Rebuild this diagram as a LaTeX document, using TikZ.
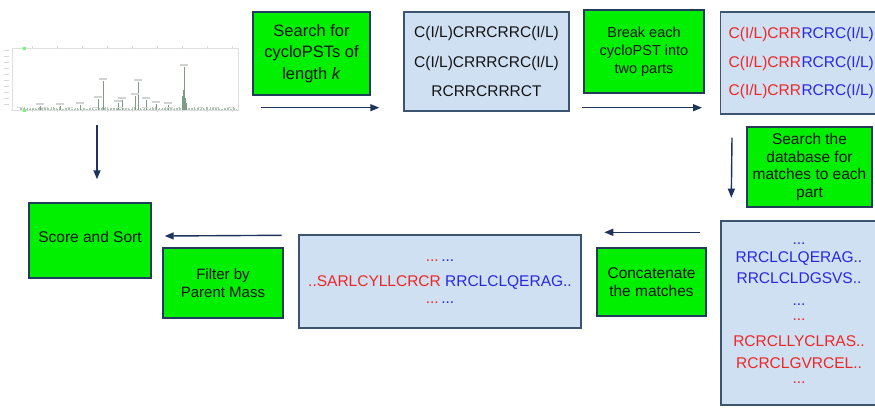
\documentclass[tikz,border=0pt]{standalone}
\usepackage{fontspec}
\setmainfont{Liberation Sans}
\usetikzlibrary{arrows.meta,calc}

\definecolor{boxgreen}{RGB}{0,240,0}
\definecolor{greenedge}{RGB}{35,60,90}
\definecolor{boxblue}{RGB}{207,224,242}
\definecolor{blueedge}{RGB}{60,84,112}
\definecolor{arrowcol}{RGB}{30,52,92}
\definecolor{txtred}{RGB}{240,38,38}
\definecolor{txtblue}{RGB}{40,40,225}
\definecolor{txtdark}{RGB}{20,20,20}
\definecolor{peakcol}{RGB}{95,130,100}

\tikzset{
  stepbox/.style={draw=greenedge, line width=1.4pt, fill=boxgreen, align=center,
    text=txtdark, inner sep=2pt},
  listbox/.style={draw=blueedge, line width=1.4pt, fill=boxblue, align=center,
    text=txtdark, inner sep=2pt},
  arr/.style={draw=arrowcol, line width=1.4pt, -{Triangle[length=9pt,width=7pt]}},
  fs/.style 2 args={font=\fontsize{#1}{#2}\selectfont},
}

\newcommand{\rd}[1]{\textcolor{txtred}{#1}}
\newcommand{\bl}[1]{\textcolor{txtblue}{#1}}

\begin{document}
\begin{tikzpicture}[x=1pt,y=-1pt]
\useasboundingbox (0,0) rectangle (875,407);
\clip (0,0) rectangle (875,407);
\fill[white] (0,0) rectangle (875,407);

% ---- mass spectrum ----
\node[inner sep=0, minimum width=226pt, minimum height=62pt] (spec) at (125,79) {};
\draw[gray!25, line width=0.4pt] (12,48) rectangle (238,110);
\foreach \y in {50,56,...,108} \draw[gray!30, line width=0.8pt] (4,\y) -- (9,\y);
\foreach \x in {32,57,...,232} {
  \draw[gray!30, line width=0.4pt] (\x,110) -- (\x,112);
  \draw[gray!30, line width=0.4pt] (\x,48) -- (\x,46);
}
\fill[green!60] (23,46.5) rectangle (26,49.5);
\fill[green!60] (23,108.5) rectangle (26,111.5);
\pgfmathsetseed{11}
\foreach \x in {20,21.5,...,236} {
  \pgfmathsetmacro\h{rnd*2.5+0.4}
  \draw[peakcol!50, line width=0.4pt] (\x,109.5) -- ++(0,-\h);
}
\foreach \x/\t in {103/81,138/82,184/67,135/96,146/100,98/99,122/100,118/103,156/104,168/105,80/105,60/106,40/106} {
  \draw[peakcol!80, line width=0.5pt] (\x,109.5) -- (\x,\t);
  \draw[gray!35, line width=1.2pt] ($(\x,\t)+(-4,-2)$) -- ($(\x,\t)+(4,-2)$);
}
\foreach \x/\t in {182/96,183/90,184.6/92,185.6/98,186.6/103} \draw[peakcol!80, line width=0.5pt] (\x,109.5) -- (\x,\t);
\foreach \x in {20,45,70,95,120,145,170,200,215,230} \draw[gray!30, line width=1pt] (\x-3,107) -- (\x+3,107);

% ---- boxes ----
\node[stepbox, fs={16.5}{21.5}, minimum width=117pt, minimum height=83pt] (g1) at (311.5,53.5)
  {Search for\\cycloPSTs of\\length \textit{k}};
\node[listbox, fs={15.5}{29.5}, minimum width=165pt, minimum height=99pt] (b1) at (486.5,61.5)
  {C(I/L)CRRCRRC(I/L)\\C(I/L)CRRRCRC(I/L)\\RCRRCRRRCT};
\node[stepbox, fs={14.5}{18}, minimum width=120pt, minimum height=83pt] (g2) at (644,51.5)
  {Break each\\cycloPST into\\two parts};
\node[listbox, fs={15.5}{28.5}, anchor=west, minimum width=240pt, minimum height=102pt,
      inner xsep=8pt, text width=224pt, align=left] (b2) at (720,63)
  {\rd{C(I/L)CRR}\hspace{0.5pt}\bl{RCRC(I/L)}\\
   \rd{C(I/L)CRR}\hspace{0.5pt}\bl{RCRC(I/L)}\\
   \rd{C(I/L)CRR}\hspace{0.5pt}\bl{RCRC(I/L)}};
\node[stepbox, fs={15.5}{17.7}, minimum width=125pt, minimum height=80pt] (g3) at (809.5,167)
  {Search the\\database for\\matches to each\\part};
\node[listbox, fs={15.5}{21}, minimum width=156pt, minimum height=184pt] (b3) at (799,313)
  {\bl{...}\\[-3pt] \bl{RRCLCLQERAG..}\\ \bl{RRCLCLDGSVS..}\\[1pt]
   \bl{...}\\[-6pt] \rd{...}\\[4.5pt] \rd{RCRCLLYCLRAS..}\\[1pt] \rd{RCRCLGVRCEL..}\\[-6pt] \rd{...}};
\node[stepbox, fs={15.5}{18}, minimum width=109pt, minimum height=68pt] (cat) at (651.5,282)
  {Concatenate\\the matches};
\node[listbox, fs={15.5}{20}, minimum width=282pt, minimum height=93pt] (b4) at (440,281.5)
  {\rd{...}\,\bl{...}\\[5.5pt]
   \rd{..SARLCYLLCRCR} \bl{RRCLCLQERAG..}\\[-3.5pt] \rd{...}\,\bl{...}};
\node[stepbox, fs={15}{17.5}, minimum width=120pt, minimum height=70pt] (filt) at (223,283)
  {Filter by\\Parent Mass};
\node[stepbox, fs={15.5}{18}, minimum width=122pt, minimum height=75pt, text depth=8pt] (score) at (90,240.5)
  {Score and Sort};

% ---- arrows ----
\draw[arr] ($(g1.south west)+(9,12)$) -- ($(b1.south west)+(-24,-4)$);
\draw[arr] ($(g2.south west)+(-1,14)$) -- ($(b2.south west)+(-18,-7)$);
\draw[arr] ($(b2.south west)+(12,23)$) -- ($(g3.south west)+(-15,-10)$);
\draw[arr] ($(cat.north east)+(-7,-15)$) -- ($(cat.north west)+(8,-15)$);
\draw[arr] ($(filt.north east)+(-2,-12)$) -- ($(score.east)+(13,-4.5)$);
\draw[arr] ($(spec.south)+(-28,15)$) -- ($(score.north)+(7,-23)$);
\end{tikzpicture}
\end{document}
